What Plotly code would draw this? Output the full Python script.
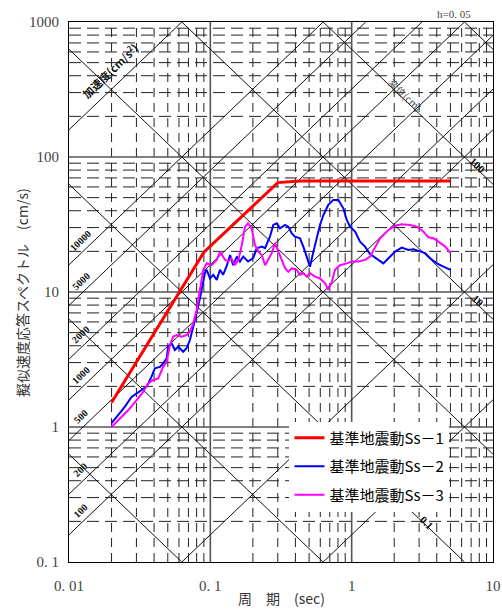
import math
import numpy as np
import plotly.graph_objects as go

# ---------------- data ----------------
ss1_T = [0.02, 0.09, 0.30, 0.43, 5.0]
ss1_V = [1.52, 19.7, 64.6, 66.4, 66.4]

ss2_T = [0.020, 0.0223, 0.0248, 0.0277, 0.0301, 0.0326, 0.0354, 0.0384, 0.0405, 0.044,
         0.0464, 0.0491, 0.0503, 0.0532, 0.0561, 0.0593, 0.0643, 0.0679, 0.0717, 0.0757,
         0.080, 0.0844, 0.0891, 0.0916, 0.0942, 0.0994, 0.105, 0.111, 0.117, 0.123,
         0.130, 0.138, 0.145, 0.154, 0.162, 0.171, 0.185, 0.201, 0.213, 0.231,
         0.244, 0.264, 0.279, 0.295, 0.311, 0.338, 0.356, 0.377, 0.397, 0.431,
         0.455, 0.481, 0.507, 0.536, 0.566, 0.597, 0.631, 0.684, 0.742, 0.805,
         0.873, 0.923, 0.975, 1.057, 1.146, 1.244, 1.349, 1.506, 1.676, 1.82,
         2.03, 2.26, 2.52, 2.74, 3.05, 3.31, 3.59, 4.01, 4.46, 5.0]
ss2_V = [1.07, 1.22, 1.41, 1.67, 1.77, 1.85, 1.99, 2.36, 2.72, 2.79,
         2.96, 3.23, 3.93, 4.17, 3.72, 3.93, 3.61, 3.83, 4.41, 5.53,
         6.95, 8.97, 11.9, 13.8, 14.6, 12.6, 13.4, 12.3, 14.6, 13.4,
         15.4, 18.8, 15.8, 18.3, 16.8, 18.3, 16.8, 17.8, 21.1, 21.7,
         21.1, 25.7, 31.4, 32.3, 29.6, 31.4, 30.5, 27.2, 25.7, 25.0,
         21.7, 18.3, 15.4, 19.9, 25.0, 31.4, 37.2, 44.2, 48.1, 48.1,
         41.7, 34.2, 30.5, 28.0, 23.6, 21.7, 19.1, 17.6, 16.3, 17.8,
         19.9, 21.3, 20.5, 20.7, 20.1, 19.4, 17.8, 16.3, 15.4, 14.6]

ss3_T = [0.020, 0.0229, 0.0262, 0.0301, 0.0335, 0.0363, 0.0394, 0.0428, 0.0464, 0.0491,
         0.0518, 0.0546, 0.0577, 0.0626, 0.0679, 0.0717, 0.0757, 0.080, 0.0844, 0.0891,
         0.0942, 0.102, 0.111, 0.117, 0.127, 0.134, 0.141, 0.149, 0.158, 0.167,
         0.176, 0.185, 0.196, 0.207, 0.219, 0.231, 0.244, 0.257, 0.272, 0.287,
         0.303, 0.320, 0.338, 0.356, 0.377, 0.408, 0.431, 0.455, 0.481, 0.507,
         0.551, 0.597, 0.648, 0.684, 0.723, 0.763, 0.827, 0.923, 1.00, 1.115,
         1.244, 1.349, 1.448, 1.589, 1.82, 2.03, 2.26, 2.59, 2.89, 3.22,
         3.49, 3.79, 4.11, 4.59, 5.0]
ss3_V = [1.00, 1.16, 1.33, 1.58, 1.82, 2.10, 2.23, 2.29, 2.79, 3.04,
         4.05, 4.67, 4.80, 4.67, 4.80, 5.08, 5.86, 7.36, 10.4, 14.6,
         16.3, 15.8, 17.3, 19.9, 17.3, 16.8, 17.8, 15.8, 17.3, 22.3,
         30.5, 32.3, 29.6, 22.3, 19.9, 18.8, 15.8, 17.3, 19.4, 23.0,
         19.9, 17.8, 15.0, 14.1, 15.0, 14.6, 13.4, 13.8, 13.0, 13.8,
         13.0, 12.6, 11.6, 10.4, 11.9, 14.6, 15.8, 16.3, 16.8, 16.8,
         17.3, 18.3, 21.1, 25.0, 28.8, 31.0, 31.8, 31.4, 30.5, 28.0,
         25.4, 25.0, 23.6, 21.7, 19.4]

series_names = ["基準地震動Ss－1", "基準地震動Ss－2", "基準地震動Ss－3"]

accel_lines = [1, 10, 100, 200, 500, 1000, 2000, 5000, 10000, 100000]   # cm/s2
disp_lines = [0.001, 0.01, 0.1, 1, 10, 100, 1000]                      # cm
accel_labels = [100, 200, 500, 1000, 2000, 5000, 10000]
disp_labels = [(100, "100", 7.72), (10, "10", 7.86), (0.1, "0.1", 3.43)]

x_tickvals = [0.01, 0.1, 1, 10]
x_ticktext = ["0. 01", "0. 1", "1", "10"]
y_tickvals = [0.1, 1, 10, 100, 1000]
y_ticktext = ["0. 1", "1", "10", "100", "1000"]

T_MIN, T_MAX = 0.01, 10.0
V_MIN, V_MAX = 0.1, 1000.0
TWO_PI = 2 * math.pi

fig = go.Figure()

# ---------------- grid ----------------
def add_lines(xs, ys, color, width, dash):
    fig.add_trace(go.Scatter(x=xs, y=ys, mode="lines", showlegend=False, hoverinfo="skip",
                             line=dict(color=color, width=width, dash=dash)))

minor_x = [m * 10.0 ** e for e in (-2, -1, 0) for m in range(2, 10)]
minor_y = [m * 10.0 ** e for e in (-1, 0, 1, 2) for m in range(2, 10)]
xs, ys = [], []
for v in minor_x:
    xs += [v, v, None]
    ys += [V_MIN, V_MAX, None]
add_lines(xs, ys, "#222222", 1, "9px,6px")
xs, ys = [], []
for v in minor_y:
    xs += [T_MIN, T_MAX, None]
    ys += [v, v, None]
add_lines(xs, ys, "#222222", 1, "12px,6px")

xs, ys = [], []
for v in [0.1, 1]:
    xs += [v, v, None]
    ys += [V_MIN, V_MAX, None]
for v in [1, 10, 100]:
    xs += [T_MIN, T_MAX, None]
    ys += [v, v, None]
add_lines(xs, ys, "#555555", 1.6, "solid")

# diagonal lines (acceleration: V = A T / 2pi ; displacement: V = 2pi D / T)
xs, ys = [], []
for A in accel_lines:
    t0 = max(T_MIN, TWO_PI * V_MIN / A)
    t1 = min(T_MAX, TWO_PI * V_MAX / A)
    if t0 < t1:
        xs += [t0, t1, None]
        ys += [A * t0 / TWO_PI, A * t1 / TWO_PI, None]
for D in disp_lines:
    t0 = max(T_MIN, TWO_PI * D / V_MAX)
    t1 = min(T_MAX, TWO_PI * D / V_MIN)
    if t0 < t1:
        xs += [t0, t1, None]
        ys += [TWO_PI * D / t0, TWO_PI * D / t1, None]
add_lines(xs, ys, "#111111", 1, "solid")

# ---------------- series ----------------
fig.add_trace(go.Scatter(x=ss1_T, y=ss1_V, mode="lines", name=series_names[0],
                         legendgroup="a", line=dict(color="#ff0000", width=3)))
fig.add_trace(go.Scatter(x=ss2_T, y=ss2_V, mode="lines", name=series_names[1],
                         legendgroup="b", line=dict(color="#0000ff", width=2)))
fig.add_trace(go.Scatter(x=ss3_T, y=ss3_V, mode="lines", name=series_names[2],
                         legendgroup="c", line=dict(color="#ff00ff", width=2)))

# ---------------- annotations ----------------
ann = []
T_lab = 0.0121
for A in accel_labels:
    ann.append(dict(x=math.log10(T_lab), y=math.log10(A * T_lab / TWO_PI), xref="x", yref="y",
                    text=f"<b>{A}</b>", showarrow=False, textangle=-44, yshift=13, xshift=0,
                    font=dict(family="Liberation Serif", size=10, color="#111111")))
T_acc = 0.0195
ann.append(dict(x=math.log10(T_acc), y=math.log10(100000 * T_acc / TWO_PI), xref="x", yref="y",
                text="<b>加速度(cm/s<sup>2</sup>)</b>", showarrow=False, textangle=-44, yshift=20,
                font=dict(family="Noto Sans CJK JP", size=11, color="#111111")))
for D, txt, tl in disp_labels:
    ann.append(dict(x=math.log10(tl), y=math.log10(TWO_PI * D / tl), xref="x", yref="y",
                    text=f"<b>{txt}</b>", showarrow=False, textangle=44, yshift=4,
                    font=dict(family="Liberation Serif", size=11, color="#111111")))
T_dis = 2.39
ann.append(dict(x=math.log10(T_dis), y=math.log10(TWO_PI * 100 / T_dis), xref="x", yref="y",
                text="変位(cm)", showarrow=False, textangle=44, yshift=6,
                font=dict(family="Noto Sans CJK JP", size=10, color="#444444")))
ann.append(dict(x=1.0, y=1.0, xref="paper", yref="paper", text="h=0. 05", showarrow=False,
                xanchor="right", yanchor="bottom", xshift=-20, yshift=0,
                font=dict(family="Liberation Serif", size=11, color="#444444")))
ann.append(dict(x=0.5, y=-0.067, xref="paper", yref="paper", text="周　期　(sec)", showarrow=False,
                xanchor="center", yanchor="middle",
                font=dict(family="Noto Sans CJK JP", size=14, color="#333333")))
ann.append(dict(x=-0.111, y=0.5, xref="paper", yref="paper",
                text="擬似速度応答スペクトル　(cm/s)", showarrow=False, textangle=-90,
                xanchor="center", yanchor="middle",
                font=dict(family="Noto Sans CJK JP", size=14, color="#333333")))

fig.update_layout(
    width=502, height=609,
    margin=dict(l=69, r=9, t=22, b=47, autoexpand=False),
    plot_bgcolor="white", paper_bgcolor="white",
    annotations=ann,
    legend=dict(x=0.52, y=0.26, xanchor="left", yanchor="top", bgcolor="white",
                borderwidth=0, tracegroupgap=6,
                font=dict(family="Noto Sans CJK JP", size=15, color="#000000")),
    xaxis=dict(type="log", range=[-2, 1], tickvals=x_tickvals, ticktext=x_ticktext,
               showgrid=False, zeroline=False, showline=True, mirror=True,
               linecolor="black", linewidth=1, ticks="", ticklabelstandoff=10,
               tickfont=dict(family="Liberation Serif", size=15, color="#444444")),
    yaxis=dict(type="log", range=[-1, 3], tickvals=y_tickvals, ticktext=y_ticktext,
               showgrid=False, zeroline=False, showline=True, mirror=True,
               linecolor="black", linewidth=1, ticks="", ticklabelstandoff=6,
               tickfont=dict(family="Liberation Serif", size=15, color="#444444")),
)

# remove the browser's default page margin so the 502x609 figure fills the window exactly
fig.write_html("out.html", config={"displayModeBar": False},
               post_script="document.body.style.margin='0px';"
               "document.body.style.overflow='hidden';")
